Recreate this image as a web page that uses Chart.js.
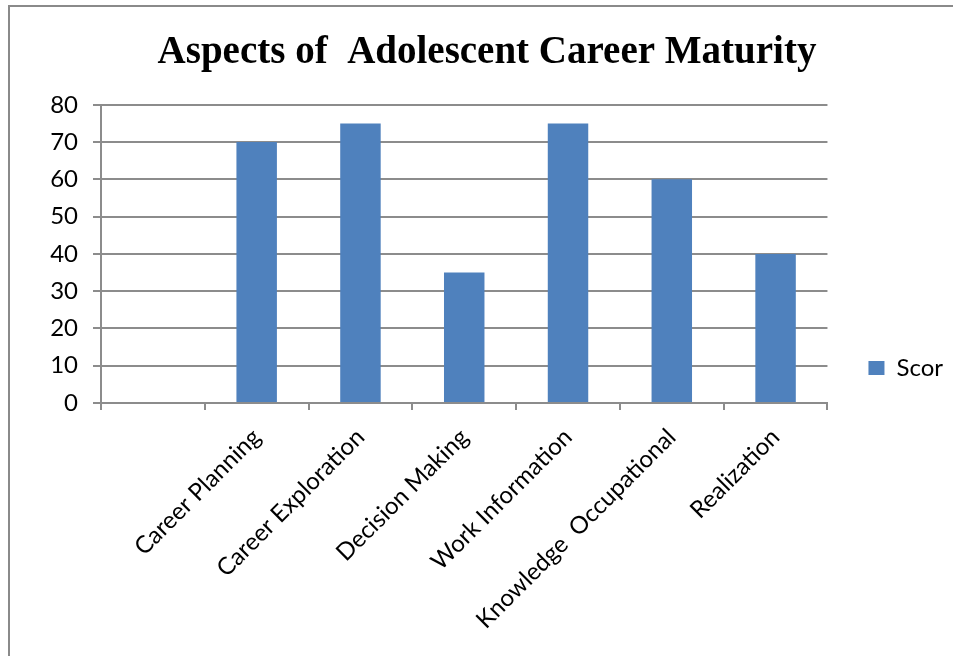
<!DOCTYPE html>
<html>
<head>
<meta charset="utf-8">
<title>Aspects of Adolescent Career Maturity</title>
<script src="https://cdn.jsdelivr.net/npm/chart.js@4/dist/chart.umd.min.js"></script>
<style>
    html, body { margin: 0; padding: 0; background: #fff; }
    #wrap { position: relative; width: 953px; height: 656px; overflow: hidden; }
    /* sheet frame: only top and left edges are visible in the crop */
    #frame {
        position: absolute; left: 8px; top: 5px; right: -10px; bottom: -10px;
        border-top: 2px solid #8a8a8a; border-left: 2px solid #8a8a8a;
    }
    #chart { position: absolute; left: 0; top: 0; }
</style>
</head>
<body>
<div id="wrap">
    <div id="frame"></div>
    <canvas id="chart" width="953" height="656"></canvas>
</div>
<script>
// Chart data
const chartTitle = 'Aspects of  Adolescent Career Maturity';
const categories = ['', 'Career Planning', 'Career Exploration', 'Decision Making',
    'Work Information', 'Knowledge  Occupational', 'Realization'];
const seriesName = 'Scor';
const scores = [null, 70, 75, 35, 75, 60, 40];
const yMin = 0;
const yMax = 80;
const yStep = 10;

const barColor = '#4f81bd';
const axisColor = '#8c8c8c';
const labelFont = 'Lato, "Open Sans", sans-serif';

// Set up the bar chart
function setupChart() {
    const ctx = document.getElementById('chart');

    new Chart(ctx, {
        type: 'bar',
        data: {
            labels: categories,
            datasets: [{
                label: seriesName,
                data: scores,
                backgroundColor: barColor,
                borderWidth: 0,
                categoryPercentage: 1,
                barPercentage: 0.39
            }]
        },
        options: {
            responsive: false,
            animation: false,
            // left padding only nudges the centred title to the right
            layout: { padding: { left: 21, right: 0, top: 0, bottom: 0 } },
            plugins: {
                tooltip: { enabled: false },
                title: {
                    display: true,
                    text: chartTitle,
                    color: '#000',
                    font: { family: '"Liberation Serif", "DejaVu Serif", serif', size: 39, weight: 'bold', lineHeight: 1.2 },
                    padding: { top: 30, bottom: 28 }
                },
                legend: {
                    position: 'right',
                    align: 'center',
                    // empty title just pushes the entry down to where the original sits
                    title: { display: true, text: '', font: { size: 10, lineHeight: 1 }, padding: { top: 70, bottom: 0 } },
                    labels: {
                        color: '#000',
                        font: { family: labelFont, size: 24 },
                        boxWidth: 16,
                        boxHeight: 14,
                        padding: 41
                    }
                }
            },
            scales: {
                x: {
                    offset: true,
                    grid: {
                        offset: true,
                        drawOnChartArea: false,
                        drawTicks: true,
                        tickLength: 7,
                        color: axisColor,
                        lineWidth: 2
                    },
                    border: { color: axisColor, width: 2 },
                    ticks: {
                        color: '#000',
                        font: { family: labelFont, size: 24 },
                        minRotation: 45,
                        maxRotation: 45,
                        autoSkip: false,
                        padding: 13
                    },
                    afterFit: (scale) => { scale.height = 253; }
                },
                y: {
                    min: yMin,
                    max: yMax,
                    grid: {
                        color: axisColor,
                        lineWidth: 2,
                        drawTicks: true,
                        tickLength: 8
                    },
                    border: { color: axisColor, width: 2 },
                    ticks: {
                        stepSize: yStep,
                        color: '#000',
                        font: { family: labelFont, size: 24 },
                        padding: 15
                    },
                    afterFit: (scale) => { scale.width = 80; }
                }
            }
        }
    });
}

document.addEventListener('DOMContentLoaded', setupChart);
</script>
</body>
</html>
